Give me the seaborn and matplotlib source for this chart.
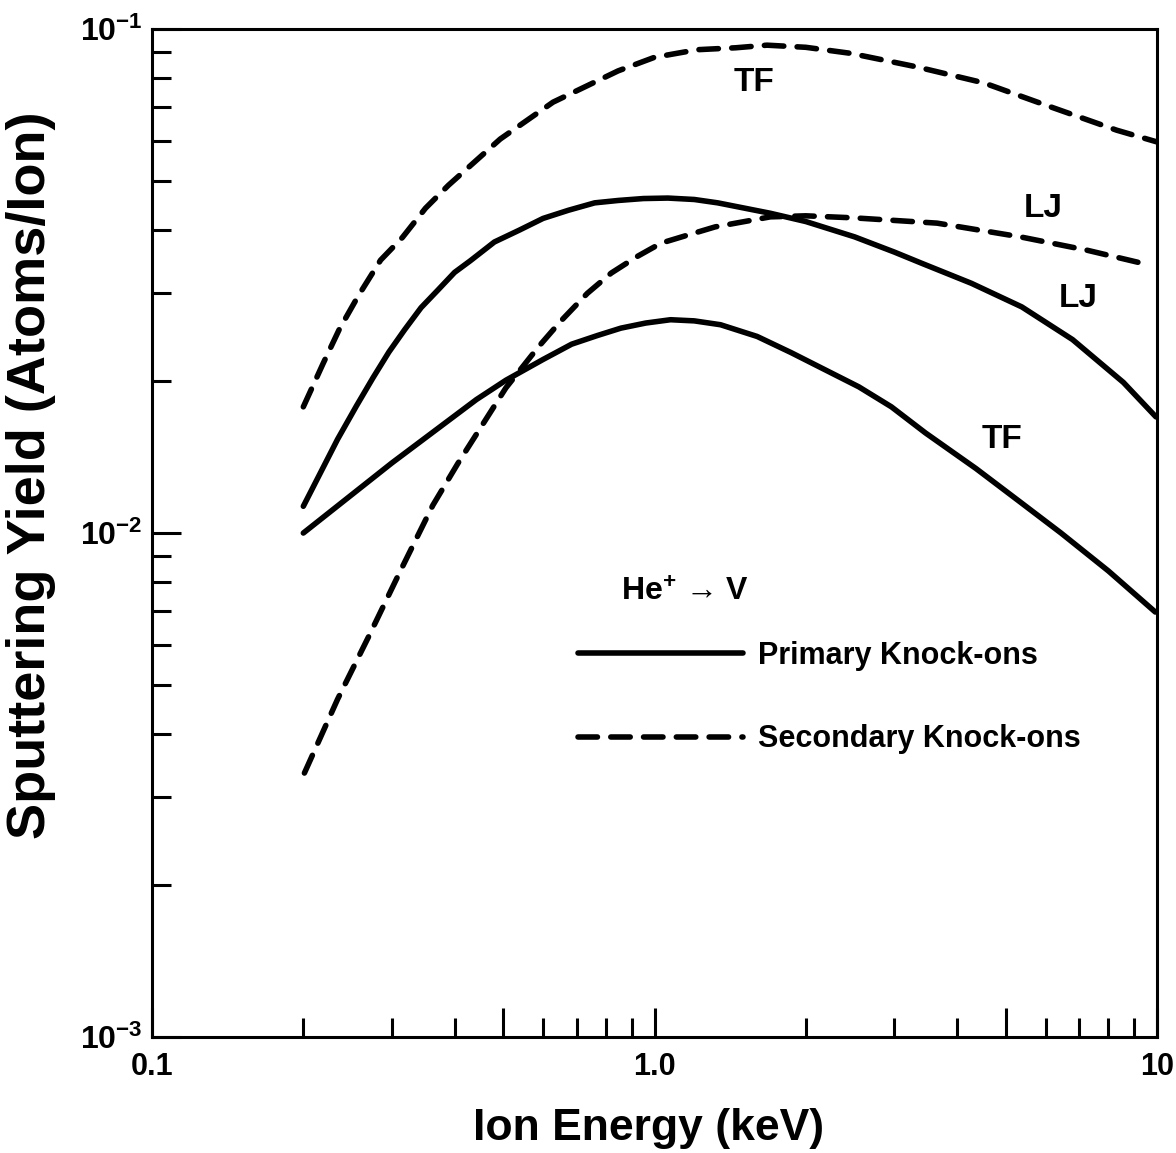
"""Sputtering yield of V by He+ ions: primary vs secondary knock-ons (TF / LJ potentials)."""

import matplotlib

matplotlib.use("Agg")

import matplotlib.pyplot as plt
import pandas as pd
import seaborn as sns
from matplotlib.lines import Line2D
from matplotlib.ticker import FixedLocator, FixedFormatter, NullFormatter

# values (keV, atoms/ion)
energy_sec_tf = [0.2, 0.219, 0.236, 0.257, 0.285, 0.315, 0.35, 0.389, 0.493, 0.628, 0.846,
                 1.0, 1.217, 1.45, 1.674, 2.0, 2.456, 3.33, 4.52, 6.16, 8.31, 10.0]
yield_sec_tf = [0.0178, 0.0217, 0.0254, 0.0295, 0.0348, 0.0386, 0.0441, 0.0490, 0.0605, 0.0716, 0.0826,
                0.0879, 0.0910, 0.0918, 0.0929, 0.0920, 0.0895, 0.0841, 0.0782, 0.0700, 0.0630, 0.0597]

energy_sec_lj = [0.201, 0.234, 0.270, 0.312, 0.362, 0.406, 0.506, 0.588, 0.65, 0.735, 0.82, 0.92,
                 1.03, 1.153, 1.32, 1.70, 2.0, 2.50, 3.65, 5.34, 7.26, 9.69]
yield_sec_lj = [0.00334, 0.00468, 0.00624, 0.00841, 0.01135, 0.01374, 0.01941, 0.02344, 0.0263, 0.0299,
                0.0328, 0.0353, 0.0376, 0.0389, 0.0405, 0.0424, 0.0426, 0.0422, 0.0412, 0.0387,
                0.0364, 0.0340]

energy_pri_lj = [0.2, 0.234, 0.255, 0.275, 0.296, 0.318, 0.343, 0.37, 0.40, 0.43, 0.48, 0.538,
                 0.6, 0.674, 0.76, 0.847, 0.95, 1.063, 1.2, 1.336, 1.70, 2.0, 2.50, 3.0, 3.40,
                 4.27, 5.38, 6.79, 8.57, 9.95]
yield_pri_lj = [0.0113, 0.01535, 0.01786, 0.0203, 0.02286, 0.0253, 0.0280, 0.0303, 0.0329, 0.0347,
                0.0378, 0.0399, 0.0421, 0.0437, 0.0452, 0.0457, 0.0461, 0.0462, 0.0459, 0.0452,
                0.0431, 0.0415, 0.0387, 0.0361, 0.0343, 0.0313, 0.0281, 0.0242, 0.0199, 0.0170]

energy_pri_tf = [0.2, 0.3, 0.442, 0.506, 0.6, 0.684, 0.77, 0.857, 0.96, 1.076, 1.2, 1.353, 1.6,
                 1.87, 2.55, 2.96, 3.46, 4.36, 5.3, 6.44, 8.0, 9.92]
yield_pri_tf = [0.0100, 0.01377, 0.0184, 0.0201, 0.0221, 0.0237, 0.02466, 0.0255, 0.0261, 0.0265,
                0.02636, 0.0259, 0.02455, 0.0228, 0.0195, 0.0178, 0.0158, 0.01343, 0.01159, 0.0100,
                0.00841, 0.00697]

curve_labels = ["TF", "LJ", "LJ", "TF"]
label_x = [1.58, 5.94, 6.97, 4.91]
label_y = [0.0782, 0.0441, 0.0292, 0.0153]

x_major = [0.1, 0.5, 1.0, 5.0, 10.0]
x_major_labels = ["0.1", "", "1.0", "", "10"]
x_minor = [0.2, 0.3, 0.4, 0.6, 0.7, 0.8, 0.9, 2, 3, 4, 6, 7, 8, 9]
y_major = [1e-3, 1e-2, 1e-1]
y_major_labels = [r"$10^{-3}$", r"$10^{-2}$", r"$10^{-1}$"]


def build_frame() -> pd.DataFrame:
    parts = [
        ("Secondary", "TF", energy_sec_tf, yield_sec_tf),
        ("Secondary", "LJ", energy_sec_lj, yield_sec_lj),
        ("Primary", "LJ", energy_pri_lj, yield_pri_lj),
        ("Primary", "TF", energy_pri_tf, yield_pri_tf),
    ]
    frames = []
    for knock, pot, e, y in parts:
        frames.append(pd.DataFrame({"energy": e, "yield": y, "knock": knock,
                                    "curve": f"{knock}-{pot}"}))
    return pd.concat(frames, ignore_index=True)


def main() -> None:
    sns.set_theme(style="white")
    plt.rcParams["font.family"] = ["Liberation Sans", "DejaVu Sans"]
    plt.rcParams["font.weight"] = "bold"
    plt.rcParams["text.color"] = "black"
    plt.rcParams["axes.labelcolor"] = "black"
    plt.rcParams["xtick.color"] = "black"
    plt.rcParams["ytick.color"] = "black"
    plt.rcParams["mathtext.fontset"] = "custom"
    plt.rcParams["mathtext.rm"] = "Liberation Sans:bold"
    plt.rcParams["mathtext.bf"] = "Liberation Sans:bold"
    plt.rcParams["mathtext.it"] = "Liberation Sans:bold"
    plt.rcParams["lines.dash_capstyle"] = "round"
    plt.rcParams["lines.solid_capstyle"] = "round"
    plt.rcParams["lines.dash_joinstyle"] = "round"
    plt.rcParams["lines.solid_joinstyle"] = "round"

    df = build_frame()
    dash = (3.5, 2.4)
    lw = 4.0

    fig = plt.figure(figsize=(11.76, 11.53), dpi=100)
    ax = fig.add_axes([0.1293, 0.1006, 0.8546, 0.8742])
    ax.set(xscale="log", yscale="log")

    sns.lineplot(data=df, x="energy", y="yield", style="knock", units="curve",
                 estimator=None, sort=False, color="black", linewidth=lw,
                 dashes={"Primary": "", "Secondary": dash}, legend=False, ax=ax)

    ax.set_xlim(0.1, 10)
    ax.set_ylim(1e-3, 1e-1)

    ax.xaxis.set_major_locator(FixedLocator(x_major))
    ax.xaxis.set_major_formatter(FixedFormatter(x_major_labels))
    ax.xaxis.set_minor_locator(FixedLocator(x_minor))
    ax.xaxis.set_minor_formatter(NullFormatter())
    ax.yaxis.set_major_locator(FixedLocator(y_major))
    ax.yaxis.set_major_formatter(FixedFormatter(y_major_labels))
    ax.yaxis.set_minor_locator(FixedLocator([k * 10.0 ** p for p in (-3, -2) for k in range(2, 10)]))
    ax.yaxis.set_minor_formatter(NullFormatter())

    ax.tick_params(which="both", direction="in", bottom=True, left=True, top=False, right=False,
                   colors="black", labelcolor="black", width=2.2, labelsize=22)
    ax.tick_params(axis="x", which="major", length=21, pad=11)
    ax.tick_params(axis="x", which="minor", length=13.5)
    ax.tick_params(axis="y", which="major", length=21, pad=7)
    ax.tick_params(axis="y", which="major", labelsize=23)
    ax.tick_params(axis="y", which="minor", length=13.5)
    for spine in ax.spines.values():
        spine.set_linewidth(2.2)
        spine.set_color("black")

    ax.set_xlabel("Ion Energy (keV)", fontsize=32, fontweight="bold", va="center")
    ax.xaxis.set_label_coords(0.494, -0.0903)
    ax.set_ylabel("Sputtering Yield (Atoms/Ion)", fontsize=39, fontweight="bold", va="center")
    ax.yaxis.set_label_coords(-0.12, 0.5575)

    for text, x, y in zip(curve_labels, label_x, label_y):
        ax.text(x, y, text, fontsize=24, fontweight="bold", ha="center", va="center")
    ax.text(1.15, 0.0076, r"He$^{+}$ → V", fontsize=23, fontweight="bold",
            ha="center", va="center")

    handles = [
        Line2D([], [], color="black", linewidth=lw),
        Line2D([], [], color="black", linewidth=lw, dashes=dash),
    ]
    ax.legend(handles, ["Primary Knock-ons", "Secondary Knock-ons"],
              loc="upper left", bbox_to_anchor=(0.4915, 0.4441),
              bbox_transform=fig.transFigure, frameon=False, fontsize=22,
              handlelength=5.4, handletextpad=0.5, labelspacing=1.75,
              borderpad=0, borderaxespad=0)

    fig.savefig("out.png", dpi=100)
    plt.close(fig)


if __name__ == "__main__":
    main()
